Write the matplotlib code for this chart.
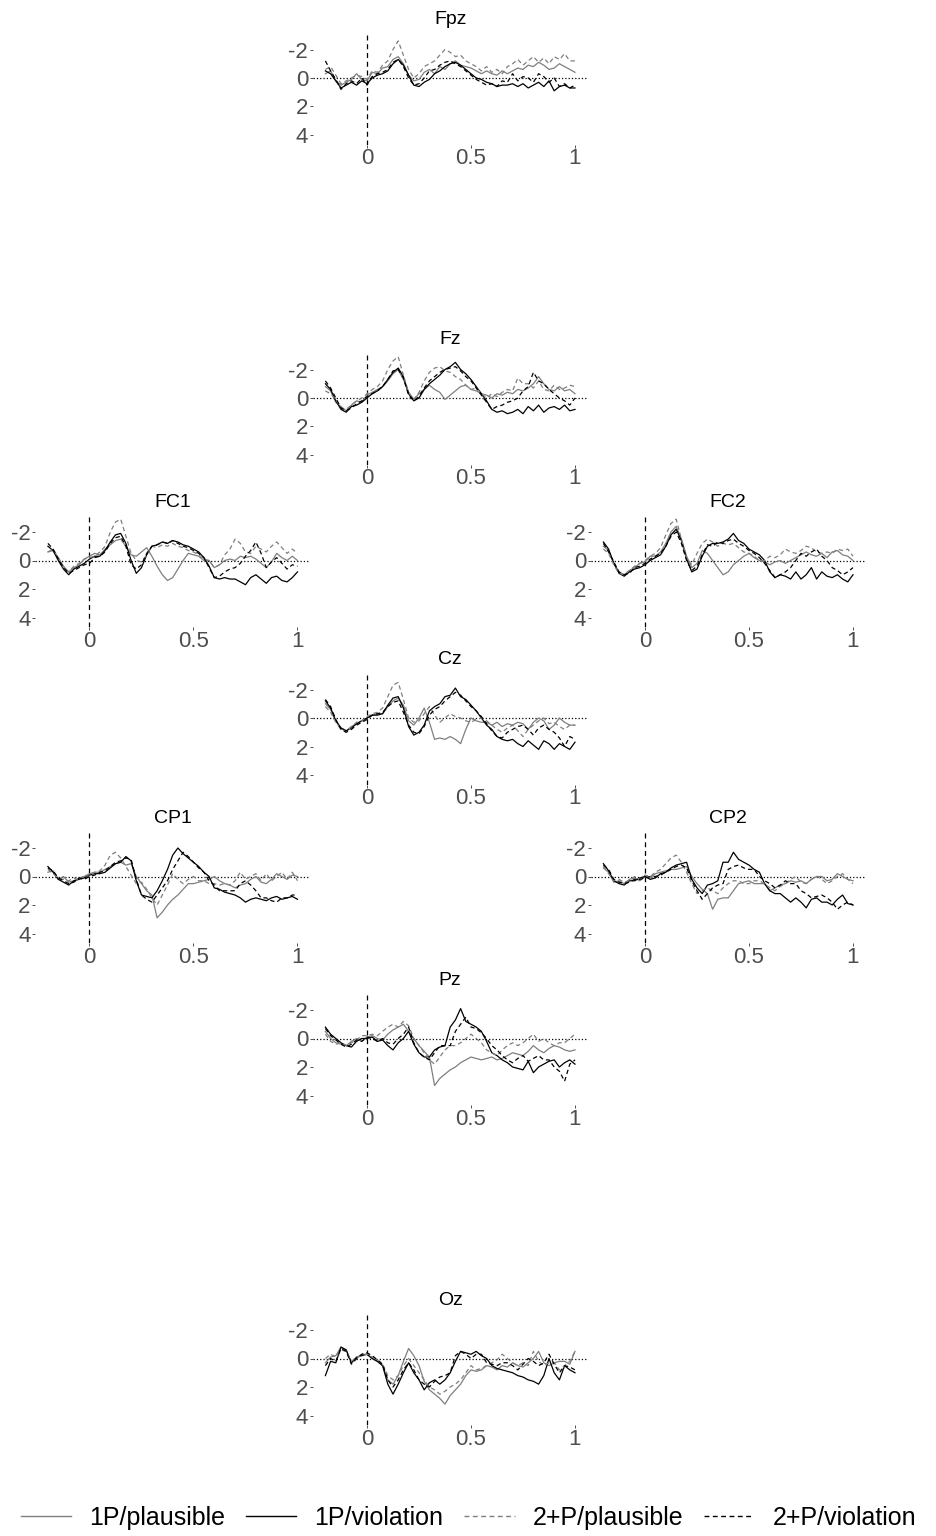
import matplotlib.pyplot as plt
import numpy as np
from matplotlib.lines import Line2D

plt.rcParams['font.family'] = ['Liberation Sans', 'DejaVu Sans']
plt.rcParams['axes.unicode_minus'] = False

conditions = ['1P/plausible', '1P/violation', '2+P/plausible', '2+P/violation']
channels = ['Fpz', 'Fz', 'FC1', 'FC2', 'Cz', 'CP1', 'CP2', 'Pz', 'Oz']
t_start, t_end = -0.2, 1.0
y_ticks = [-2, 0, 2, 4]
x_ticks = [0, 0.5, 1]
x_tick_labels = ['0', '0.5', '1']

# grand averages (µV), one sample every 25 ms from -200 to 1000 ms
fpz_1p_plaus = [-0.3, -0.5, 0.2, 0.5, 0.3, 0.1, -0.3,
                0.1, 0.2, -0.4, -0.3, -0.7, -0.8, -1.3,
                -1.5, -1.0, -0.2, 0.2, 0.1, -0.4, -0.6,
                -0.3, -0.8, -0.6, -1.0, -1.2, -0.9, -0.8,
                -0.7, -0.5, -0.3, -0.5, -0.3, -0.2, -0.5,
                -0.3, -0.5, -0.7, -0.6, -0.9, -0.8, -1.1,
                -0.9, -0.6, -0.7, -1.0, -0.8, -0.6, -0.4]
fpz_1p_viol = [-0.5, -0.3, 0.2, 0.7, 0.5, 0.3, 0.5,
               0.2, 0.4, 0.0, -0.2, -0.3, -0.5, -1.0,
               -1.3, -0.9, -0.2, 0.5, 0.6, 0.3, 0.1,
               -0.3, -0.5, -0.8, -1.0, -1.1, -0.9, -0.6,
               -0.3, 0.0, 0.1, 0.3, 0.4, 0.6, 0.5,
               0.5, 0.4, 0.6, 0.4, 0.7, 0.5, 0.3,
               0.6, 0.2, 0.9, 0.6, 0.5, 0.7, 0.7]
fpz_2p_plaus = [-0.6, -0.8, -0.2, 0.4, 0.2, 0.0, -0.2,
                -0.1, 0.1, -0.5, -0.4, -0.9, -1.2, -2.0,
                -2.6, -1.6, -0.6, 0.0, -0.3, -0.8, -1.0,
                -1.2, -1.6, -2.0, -1.8, -1.5, -1.6, -1.2,
                -1.0, -0.8, -0.5, -0.8, -0.4, -0.6, -0.3,
                -0.8, -1.0, -1.3, -0.9, -1.2, -1.5, -1.1,
                -1.4, -1.0, -1.5, -1.3, -1.7, -1.2, -1.2]
fpz_2p_viol = [-1.2, -0.5, 0.1, 0.8, 0.4, 0.2, 0.4,
               0.0, 0.5, -0.1, -0.3, -0.4, -0.6, -1.1,
               -1.3, -0.8, 0.0, 0.5, 0.4, 0.0, -0.5,
               -0.6, -0.9, -1.1, -1.2, -1.0, -0.8, -0.5,
               -0.2, 0.1, 0.3, 0.5, 0.4, 0.6, 0.2,
               0.3, -0.3, 0.2, -0.1, 0.0, 0.3, -0.3,
               -0.1, 0.3, 0.0, 0.6, 0.4, 0.7, 0.5]

fz_1p_plaus = [-0.8, -0.5, 0.3, 0.6, 0.9, 0.5, 0.2,
               0.3, -0.2, -0.4, -0.6, -0.8, -1.2, -1.7,
               -2.0, -1.3, -0.4, 0.1, -0.3, -0.6, -0.9,
               -0.6, -0.4, 0.1, -0.2, -0.5, -0.8, -0.9,
               -0.6, -0.5, -0.3, -0.2, 0.0, -0.3, -0.2,
               -0.4, -0.3, -0.6, -0.5, -0.7, -1.0, -1.5,
               -1.0, -0.6, -0.5, -0.8, -0.5, -0.6, -0.3]
fz_1p_viol = [-1.0, -0.6, 0.2, 0.8, 1.0, 0.6, 0.5,
              0.3, 0.0, -0.3, -0.5, -0.8, -1.3, -1.8,
              -2.1, -1.5, -0.3, 0.2, 0.0, -0.6, -1.0,
              -1.3, -1.6, -2.0, -2.2, -2.5, -2.0, -1.7,
              -1.3, -0.8, -0.3, 0.2, 0.8, 1.0, 0.9,
              1.1, 1.0, 0.8, 1.1, 0.6, 0.9, 0.5,
              1.0, 0.7, 0.6, 0.8, 0.5, 0.9, 0.8]
fz_2p_plaus = [-0.5, -0.3, 0.1, 0.7, 0.8, 0.5, 0.2,
               0.0, -0.3, -0.6, -0.8, -1.2, -2.0, -2.6,
               -2.9, -1.6, -0.4, 0.1, -0.4, -1.2, -1.8,
               -2.1, -2.2, -1.9, -1.8, -1.5, -1.3, -0.9,
               -0.6, -0.7, -0.3, 0.0, -0.3, -0.1, -0.4,
               -0.6, -0.5, -1.4, -1.0, -1.0, -0.7, -1.2,
               -0.6, -0.5, -0.9, -0.6, -0.7, -0.9, -0.8]
fz_2p_viol = [-1.2, -0.7, 0.0, 0.7, 0.9, 0.7, 0.4,
              0.2, -0.1, -0.3, -0.5, -0.8, -1.3, -1.9,
              -2.0, -1.4, -0.2, 0.2, -0.1, -0.7, -1.2,
              -1.5, -1.8, -2.0, -2.1, -2.2, -1.9, -1.5,
              -1.2, -0.7, -0.2, 0.3, 0.8, 0.6, 0.5,
              0.3, 0.2, 0.0, -0.5, -0.8, -1.8, -1.2,
              -1.0, -0.6, -0.3, 0.0, 0.2, 0.5, 0.0]

fc1_1p_plaus = [-0.6, -0.7, -0.2, 0.4, 0.8, 0.5, 0.3,
                -0.1, -0.3, -0.5, -0.4, -0.8, -1.1, -1.4,
                -1.5, -1.0, -0.4, -0.3, -0.6, -0.9, -0.3,
                0.4, 1.0, 1.4, 1.2, 0.6, 0.0, -0.5,
                -0.4, -0.3, 0.0, 0.0, 0.5, 0.3, 0.0,
                -0.1, 0.0, -0.3, -0.2, -0.3, -0.1, 0.2,
                0.5, 0.1, -0.5, -0.2, 0.0, -0.3, 0.0]
fc1_1p_viol = [-1.0, -0.7, 0.0, 0.6, 1.0, 0.6, 0.4,
               0.2, -0.1, -0.3, -0.3, -0.7, -1.3, -1.8,
               -1.9, -1.2, 0.0, 0.9, 0.5, -0.4, -1.0,
               -1.1, -1.3, -1.2, -1.4, -1.3, -1.1, -1.0,
               -0.8, -0.6, -0.2, 0.4, 1.2, 1.3, 1.2,
               1.3, 1.3, 1.5, 1.7, 1.2, 1.0, 1.3,
               1.6, 1.2, 1.1, 1.4, 1.5, 1.2, 0.8]
fc1_2p_plaus = [-0.6, -0.8, -0.2, 0.5, 0.8, 0.4, 0.2,
                -0.1, -0.2, -0.3, -0.6, -1.0, -2.0, -2.7,
                -2.9, -1.7, -0.5, 0.0, 0.1, -0.4, -1.0,
                -0.9, -1.1, -1.0, -1.2, -1.0, -0.9, -0.7,
                -0.6, -0.4, -0.1, 0.0, 0.5, 0.3, -0.4,
                -0.8, -1.5, -1.2, -0.6, -0.5, -1.0, -0.8,
                -0.6, -1.0, -1.3, -0.9, -0.5, -0.8, -0.5]
fc1_2p_viol = [-1.2, -0.8, -0.1, 0.5, 0.9, 0.7, 0.5,
               0.3, 0.2, -0.2, -0.3, -0.6, -1.2, -1.6,
               -1.7, -1.0, 0.3, 0.6, 0.3, -0.5, -1.0,
               -1.1, -1.3, -1.2, -1.4, -1.2, -1.0, -0.9,
               -0.7, -0.5, -0.2, 0.5, 1.2, 1.1, 0.8,
               0.6, 0.5, 0.2, -0.3, -0.7, -1.3, -0.5,
               0.5, 0.1, -0.2, 0.2, 0.6, 0.3, 0.4]

fc2_1p_plaus = [-1.0, -0.7, 0.2, 0.8, 1.0, 0.7, 0.5,
                0.2, 0.1, -0.3, -0.3, -0.6, -1.2, -2.0,
                -2.4, -1.5, -0.3, 0.5, 0.2, -0.7, -0.5,
                0.0, 0.5, 1.0, 0.8, 0.3, 0.0, -0.3,
                -0.5, -0.2, 0.0, 0.1, 0.3, 0.1, 0.0,
                0.2, 0.0, -0.2, -0.4, -0.6, -0.4, -0.3,
                -0.5, -0.2, -0.6, -0.7, -0.4, -0.3, 0.0]
fc2_1p_viol = [-1.3, -0.8, 0.2, 0.9, 1.1, 0.8, 0.6,
               0.5, 0.3, 0.0, -0.2, -0.4, -1.0, -1.8,
               -2.2, -1.4, -0.1, 0.8, 0.6, -0.3, -1.0,
               -1.2, -1.2, -1.3, -1.5, -1.9, -1.4, -1.2,
               -0.8, -0.6, -0.4, 0.0, 0.8, 1.2, 1.0,
               1.1, 1.3, 0.8, 1.3, 1.0, 0.5, 1.3,
               0.8, 1.1, 1.2, 1.0, 1.3, 1.5, 1.0]
fc2_2p_plaus = [-0.8, -0.5, 0.3, 0.9, 1.0, 0.7, 0.4,
                0.2, 0.0, -0.3, -0.5, -0.9, -1.8, -2.6,
                -2.9, -1.5, -0.2, 0.3, -0.5, -1.2, -1.5,
                -1.3, -1.0, -1.2, -1.1, -1.2, -0.9, -0.6,
                -0.5, -0.3, 0.0, 0.0, -0.3, -0.2, -0.4,
                -0.8, -0.6, -0.5, -0.7, -1.0, -0.9, -0.6,
                -0.5, -0.6, -0.5, -0.8, -0.7, -0.8, -0.3]
fc2_2p_viol = [-1.2, -0.6, 0.1, 0.8, 1.0, 0.9, 0.5,
               0.4, 0.2, -0.1, -0.3, -0.5, -1.0, -1.7,
               -2.0, -1.2, 0.0, 0.7, 0.4, -0.4, -1.1,
               -1.0, -1.3, -1.2, -1.4, -1.5, -1.2, -1.0,
               -0.7, -0.5, -0.2, 0.2, 0.7, 1.2, 1.0,
               0.8, 0.5, 0.0, -0.5, -0.3, -0.6, -0.8,
               -0.3, 0.0, 0.5, 0.7, 1.0, 0.8, 0.5]

cz_1p_plaus = [-1.0, -0.6, 0.2, 0.7, 0.9, 0.6, 0.4,
               0.2, 0.0, -0.2, -0.3, -0.3, -0.8, -1.2,
               -1.4, -0.9, 0.2, 0.5, 0.0, -0.7, 0.3,
               1.5, 1.4, 1.5, 1.3, 1.5, 1.8, 0.8,
               0.0, 0.2, 0.3, 0.3, 0.5, 0.3, 0.6,
               0.4, 0.5, 0.3, 0.4, 0.8, 0.3, 0.0,
               0.2, 0.8, 0.5, 0.0, 0.3, 0.5, 0.5]
cz_1p_viol = [-1.2, -0.7, 0.2, 0.7, 0.9, 0.7, 0.4,
              0.2, 0.0, -0.2, -0.2, -0.3, -0.9, -1.4,
              -1.5, -0.7, 0.6, 1.2, 1.0, 0.5, -0.5,
              -0.8, -1.0, -1.5, -1.6, -2.1, -1.5, -1.3,
              -0.9, -0.5, 0.0, 0.5, 0.8, 1.3, 1.5,
              1.6, 1.5, 1.8, 2.0, 1.6, 1.9, 2.2,
              1.6, 1.8, 2.2, 1.8, 2.0, 2.2, 1.7]
cz_2p_plaus = [-0.8, -0.4, 0.3, 0.8, 1.0, 0.6, 0.3,
               0.2, -0.1, -0.3, -0.4, -0.7, -1.5, -2.3,
               -2.5, -1.3, 0.0, 0.3, 0.2, -0.3, -0.8,
               -0.2, 0.3, 0.0, -0.3, -0.1, 0.0, 0.2,
               0.3, 0.1, 0.0, 0.2, 0.5, 0.8, 1.0,
               0.7, 0.5, 0.9, 1.3, 0.8, 0.5, 0.2,
               0.0, 0.4, 0.3, 0.6, 0.8, 0.5, 0.5]
cz_2p_viol = [-1.3, -0.8, 0.1, 0.8, 1.0, 0.8, 0.5,
              0.3, 0.1, -0.2, -0.3, -0.4, -0.8, -1.1,
              -1.2, -0.4, 0.5, 1.0, 1.1, 0.6, -0.2,
              -0.6, -0.8, -1.2, -1.5, -1.8, -1.6, -1.2,
              -0.8, -0.5, -0.1, 0.4, 0.9, 1.3, 1.4,
              1.0, 0.8, 0.6, 0.5, 0.8, 1.2, 0.7,
              0.5, 0.8, 1.0, 1.4, 2.0, 1.3, 1.5]

cp1_1p_plaus = [-0.3, -0.4, 0.2, 0.0, 0.4, 0.3, 0.1,
                0.0, -0.2, -0.3, -0.3, -0.5, -0.7, -0.9,
                -1.0, -0.8, -0.9, 0.0, 0.5, 1.0, 1.3,
                2.9, 2.5, 2.0, 1.6, 1.3, 0.9, 0.5,
                0.5, 0.4, 0.3, 0.2, 0.0, 0.3, 0.5,
                0.6, 0.8, 0.6, 0.5, 0.2, 0.0, 0.4,
                0.5, 0.2, -0.2, 0.0, 0.2, -0.1, 0.0]
cp1_1p_viol = [-0.7, -0.3, 0.2, 0.4, 0.6, 0.3, 0.2,
               0.1, -0.1, -0.2, -0.2, -0.3, -0.6, -0.9,
               -1.0, -1.4, -1.1, 0.3, 1.3, 1.4, 1.5,
               1.0, 0.3, -0.5, -1.5, -2.0, -1.6, -1.3,
               -1.0, -0.7, -0.3, 0.0, 0.8, 0.9, 1.1,
               1.2, 1.3, 1.5, 1.8, 1.6, 1.5, 1.6,
               1.7, 1.5, 1.4, 1.6, 1.5, 1.4, 1.6]
cp1_2p_plaus = [-0.5, -0.2, 0.1, 0.2, 0.3, 0.1, 0.3,
                -0.1, 0.0, -0.3, -0.4, -0.8, -1.5, -1.7,
                -1.3, -0.7, -0.1, 0.5, 0.4, 0.9, 1.5,
                2.0, 1.3, 0.6, -0.2, 0.2, 0.5, 0.2,
                0.0, 0.3, 0.3, 0.5, 0.5, 0.6, 0.5,
                0.6, 0.3, -0.3, 0.2, 0.0, -0.2, 0.3,
                -0.2, 0.3, 0.0, -0.3, 0.2, -0.3, 0.3]
cp1_2p_viol = [-0.6, -0.4, 0.1, 0.3, 0.5, 0.4, 0.1,
               0.2, 0.0, -0.1, -0.3, -0.4, -0.7, -1.0,
               -1.1, -1.3, -1.2, 0.2, 1.3, 1.6, 1.8,
               1.3, 0.8, 0.3, -0.5, -1.1, -1.7, -1.4,
               -1.0, -0.6, -0.3, 0.3, 0.6, 1.0, 1.0,
               1.0, 1.0, 0.5, 0.3, 0.6, 1.0, 1.5,
               1.5, 1.7, 1.8, 1.5, 1.5, 1.3, 1.3]

cp2_1p_plaus = [-0.6, -0.3, 0.4, 0.3, 0.5, 0.2, 0.1,
                0.3, 0.0, 0.1, -0.2, -0.3, -0.4, -0.5,
                -0.5, -0.6, -0.7, 0.0, 0.5, 0.9, 1.2,
                2.3, 1.6, 1.5, 1.5, 1.0, 0.5, 0.4,
                0.3, 0.5, 0.5, 0.5, 1.0, 0.8, 0.6,
                0.5, 0.3, 0.4, 0.3, 0.5, 0.2, 0.0,
                0.0, 0.3, 0.2, -0.2, 0.0, 0.2, 0.3]
cp2_1p_viol = [-0.9, -0.4, 0.3, 0.5, 0.6, 0.3, 0.3,
               0.1, 0.0, 0.2, 0.1, -0.2, -0.3, -0.6,
               -0.8, -0.9, -1.0, 0.2, 0.8, 1.2, 0.6,
               0.5, 0.3, -1.0, -1.0, -1.7, -1.2, -1.0,
               -0.8, -0.5, -0.3, 0.5, 1.0, 1.2, 1.2,
               1.5, 1.8, 1.5, 1.8, 2.2, 1.6, 1.5,
               1.8, 1.8, 2.0, 1.6, 1.3, 1.9, 2.0]
cp2_2p_plaus = [-0.7, -0.2, 0.3, 0.2, 0.4, 0.3, 0.0,
                0.2, -0.1, 0.0, -0.3, -0.5, -0.9, -1.3,
                -1.5, -1.0, -0.3, 0.5, 1.2, 1.0, 0.8,
                1.0, 1.2, 0.8, 0.5, 0.3, 0.3, 0.5,
                0.5, 0.3, 0.3, 0.5, 0.8, 1.0, 0.7,
                0.5, 0.2, 0.0, 0.4, 0.5, 0.2, 0.0,
                0.2, 0.5, 0.3, 0.0, -0.2, 0.2, 0.5]
cp2_2p_viol = [-0.8, -0.5, 0.2, 0.4, 0.5, 0.4, 0.2,
               0.2, 0.1, 0.0, 0.0, -0.1, -0.3, -0.5,
               -0.7, -0.8, -0.6, 0.3, 1.0, 1.6, 1.2,
               0.8, 0.6, 0.5, -0.5, -0.7, -0.8, -0.6,
               -0.5, -0.5, 0.0, 0.3, 0.5, 0.8, 0.6,
               0.3, 0.5, 0.5, 1.0, 1.2, 1.5, 1.4,
               1.3, 1.5, 1.8, 2.3, 2.0, 1.8, 2.0]

pz_1p_plaus = [-0.5, 0.0, 0.3, 0.4, 0.5, 0.2, 0.0,
               0.2, -0.1, -0.2, 0.0, 0.1, -0.3, -0.6,
               -0.8, -1.0, -0.5, 0.0, 0.5, 0.9, 1.3,
               3.3, 2.8, 2.5, 2.2, 2.0, 1.7, 1.5,
               1.3, 1.4, 1.5, 1.4, 1.3, 1.5, 1.4,
               1.2, 1.0, 1.1, 1.2, 0.9, 0.5, 0.8,
               1.0, 0.7, 0.5, 0.6, 0.8, 0.9, 0.8]
pz_1p_viol = [-0.8, -0.3, 0.0, 0.3, 0.5, 0.6, 0.2,
              0.0, 0.0, -0.1, 0.2, 0.1, 0.5, 0.8,
              0.3, 0.0, -0.5, 0.4, 1.0, 1.3, 1.3,
              0.8, 0.6, 0.5, -0.8, -1.3, -2.1, -1.2,
              -1.0, -0.8, -0.5, 0.2, 1.0, 1.2, 1.5,
              1.7, 2.0, 2.1, 2.2, 1.6, 2.4, 2.0,
              1.8, 1.6, 1.5, 2.0, 1.7, 1.5, 1.8]
pz_2p_plaus = [-0.3, 0.2, 0.4, 0.3, 0.5, 0.3, 0.1,
               -0.2, -0.2, -0.3, -0.2, -0.5, -0.8, -1.0,
               -0.8, -1.2, -0.9, 0.0, 0.5, 1.0, 1.5,
               1.8, 1.3, 0.8, 0.5, 0.5, 0.3, 0.0,
               -0.3, 0.0, 0.3, 0.8, 1.0, 1.2, 0.8,
               0.5, 0.3, 0.5, 0.3, 0.0, -0.3, 0.2,
               0.0, 0.3, 0.5, 0.3, 0.3, 0.0, -0.3]
pz_2p_viol = [-0.7, -0.2, 0.1, 0.4, 0.6, 0.4, 0.1,
              0.2, -0.1, 0.0, 0.2, 0.0, 0.3, 0.4,
              0.0, -0.3, -0.8, 0.3, 1.0, 1.3, 1.5,
              1.0, 0.5, 0.5, 0.5, -0.5, -1.0, -1.5,
              -0.8, -0.7, -0.4, 0.0, 0.5, 0.8, 1.2,
              1.5, 1.7, 1.4, 1.2, 1.6, 1.4, 1.2,
              1.5, 1.5, 2.0, 2.3, 3.0, 1.8, 1.5]

oz_1p_plaus = [0.3, -0.1, -0.2, -0.8, -0.6, 0.3, 0.0,
               -0.3, -0.3, 0.0, 0.2, 0.5, 1.5, 1.8,
               1.2, 0.2, -0.7, -0.2, 0.5, 1.6, 2.2,
               2.5, 2.8, 3.2, 2.6, 2.2, 1.8, 1.2,
               0.8, 0.9, 0.8, 0.5, 0.6, 0.8, 0.5,
               0.6, 0.3, 0.5, 0.6, 0.3, 0.0, -0.5,
               0.3, 0.5, 0.3, 0.2, 0.2, 0.4, -0.5]
oz_1p_viol = [1.2, 0.2, 0.3, -0.8, -0.6, 0.3, -0.1,
              -0.2, -0.3, 0.0, 0.2, 0.5, 1.8, 2.5,
              1.8, 1.0, 0.3, 1.0, 1.5, 2.2, 1.7,
              1.5, 1.8, 1.5, 1.0, 0.2, -0.5, -0.4,
              -0.3, -0.5, -0.2, 0.0, 0.5, 0.7, 0.8,
              0.9, 1.0, 1.2, 1.3, 1.5, 1.6, 1.8,
              1.2, 0.0, 1.0, 1.5, 0.5, 0.8, 1.0]
oz_2p_plaus = [0.0, -0.3, -0.1, -0.6, -0.5, 0.2, -0.1,
               -0.2, -0.3, -0.1, 0.1, 0.4, 1.2, 1.5,
               1.2, 0.5, 0.0, 0.5, 1.0, 1.5, 2.0,
               2.2, 2.5, 2.3, 2.0, 1.8, 1.5, 1.0,
               0.5, 0.8, 0.7, 0.5, 0.3, 0.1, -0.3,
               0.0, 0.3, 0.5, 0.3, 0.5, -0.5, 0.2,
               0.5, 0.3, 0.3, 0.8, 0.5, 0.2, -0.5]
oz_2p_viol = [0.5, 0.0, 0.2, -0.7, -0.5, 0.4, 0.0,
              -0.3, -0.4, -0.2, 0.1, 0.4, 1.5, 2.0,
              1.5, 0.8, 0.3, 0.8, 1.5, 1.8, 2.0,
              1.6, 1.3, 1.2, 1.0, -0.2, -0.5, -0.3,
              0.0, -0.3, -0.3, 0.3, 0.4, 0.5, 0.3,
              0.3, 0.5, 0.8, 0.4, 0.0, 0.2, 0.5,
              0.3, -0.3, 0.4, 1.0, 0.5, 0.6, 0.8]

erp = {
    'Fpz': [fpz_1p_plaus, fpz_1p_viol, fpz_2p_plaus, fpz_2p_viol],
    'Fz': [fz_1p_plaus, fz_1p_viol, fz_2p_plaus, fz_2p_viol],
    'FC1': [fc1_1p_plaus, fc1_1p_viol, fc1_2p_plaus, fc1_2p_viol],
    'FC2': [fc2_1p_plaus, fc2_1p_viol, fc2_2p_plaus, fc2_2p_viol],
    'Cz': [cz_1p_plaus, cz_1p_viol, cz_2p_plaus, cz_2p_viol],
    'CP1': [cp1_1p_plaus, cp1_1p_viol, cp1_2p_plaus, cp1_2p_viol],
    'CP2': [cp2_1p_plaus, cp2_1p_viol, cp2_2p_plaus, cp2_2p_viol],
    'Pz': [pz_1p_plaus, pz_1p_viol, pz_2p_plaus, pz_2p_viol],
    'Oz': [oz_1p_plaus, oz_1p_viol, oz_2p_plaus, oz_2p_viol],
}

# line style per condition
colors = ['#7f7f7f', 'black', '#7f7f7f', 'black']
styles = ['-', '-', (0, (3.5, 2.5)), (0, (3.5, 2.5))]

W, H = 937, 1536
fig = plt.figure(figsize=(W / 100, H / 100), dpi=100)

# pixel position (from top-left) of t=0 and of the 0 µV line for each electrode
panel_pos = {
    'Fpz': (367, 78), 'Fz': (367, 398),
    'FC1': (89.5, 560.5), 'FC2': (645, 560.5),
    'Cz': (367, 718),
    'CP1': (89.5, 876.5), 'CP2': (645, 876.5),
    'Pz': (367, 1038.5), 'Oz': (367, 1358.5),
}
px_per_s = 208
px_per_uv = 14.25
xlim = (-0.26, 1.06)
ylim = (4.7, -3.2)  # negative up

for ch in channels:
    x0, y0 = panel_pos[ch]
    left = x0 + xlim[0] * px_per_s
    width = (xlim[1] - xlim[0]) * px_per_s
    top = y0 + ylim[1] * px_per_uv
    height = (ylim[0] - ylim[1]) * px_per_uv
    ax = fig.add_axes([left / W, 1 - (top + height) / H, width / W, height / H])

    ax.axhline(0, color='black', ls=':', lw=0.9, zorder=1)
    ax.axvline(0, color='black', ls=(0, (4, 3)), lw=0.9, zorder=1)
    for vals, c, ls in zip(erp[ch], colors, styles):
        t = np.linspace(t_start, t_end, len(vals))
        ax.plot(t, vals, color=c, ls=ls, lw=0.9, zorder=2)

    ax.set_xlim(xlim)
    ax.set_ylim(ylim)
    ax.set_xticks(x_ticks)
    ax.set_xticklabels(x_tick_labels)
    ax.set_yticks(y_ticks)
    ax.tick_params(axis='both', length=2.5, width=0.6, color='#333333',
                   labelcolor='#4d4d4d', labelsize=16, pad=1)
    ax.tick_params(axis='x', pad=0)
    for s in ax.spines.values():
        s.set_visible(False)
    ax.set_title(ch, fontsize=14, pad=6)

handles = [Line2D([], [], color=c, ls=ls, lw=1.0) for c, ls in zip(colors, styles)]
fig.legend(handles, conditions, loc='center', bbox_to_anchor=(0.5, 1 - 1518 / H),
           ncol=4, frameon=False, fontsize=18, handlelength=2.0,
           handletextpad=0.72, columnspacing=0.85)

fig.savefig('out.png', dpi=100, facecolor='white')
